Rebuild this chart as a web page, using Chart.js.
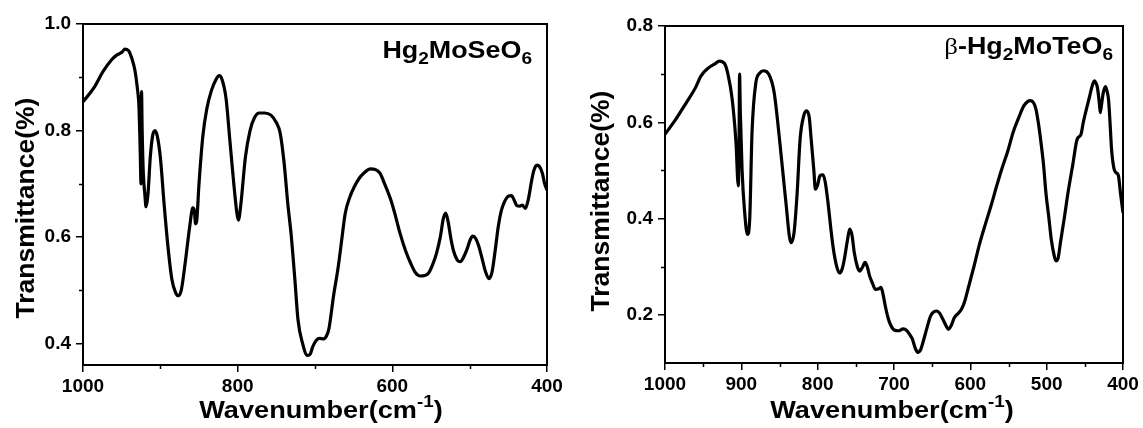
<!DOCTYPE html>
<html>
<head>
<meta charset="utf-8">
<script src="https://cdn.jsdelivr.net/npm/chart.js@4.4.1/dist/chart.umd.min.js"></script>
<style>
html, body { margin: 0; padding: 0; background: #fff; }
#wrap { position: relative; width: 1143px; height: 428px; }
.pane { position: absolute; top: 0; height: 428px; }
</style>
</head>
<body>
<div id="wrap">
  <div class="pane" style="left:0;width:571px"><canvas id="se-chart"></canvas></div>
  <div class="pane" style="left:571px;width:572px"><canvas id="te-chart"></canvas></div>
</div>
<script>
// Hg2MoSeO6 spectrum (wavenumber cm-1, transmittance)
const seWave = [1000, 986, 974, 963, 956, 952, 949, 946, 941, 937, 933, 930, 927.5, 926, 925, 924.3, 923.5, 922, 920, 918.5,
  916, 913, 910, 907, 904, 900, 895, 890, 885, 880, 877, 873, 868, 862, 858, 856, 854.5, 853, 850, 845,
  840, 834, 828, 824, 820, 815, 810, 805, 801, 799, 796, 790, 784, 778, 772, 765, 757, 750, 745, 740,
  735, 731, 726, 722, 716, 710, 706, 703, 698, 694, 689, 685, 682, 676, 670, 665, 661, 655, 649, 643,
  637, 628, 622, 616, 610, 602, 596, 590, 583, 576, 570, 564, 558, 553, 548, 543, 538, 534, 531, 528,
  524, 521, 516, 512, 508, 504, 499, 496, 492, 488, 484, 479, 475, 471, 467, 463, 459, 456, 450, 446,
  442, 439, 435, 432, 428, 424, 420, 417, 413, 410, 406, 403, 400];
const seTrans = [0.854, 0.880, 0.911, 0.933, 0.942, 0.945, 0.948, 0.953, 0.950, 0.936, 0.914, 0.883, 0.840, 0.760, 0.700, 0.873, 0.800, 0.720, 0.680, 0.657,
  0.680, 0.750, 0.790, 0.800, 0.790, 0.750, 0.660, 0.580, 0.520, 0.495, 0.490, 0.500, 0.550, 0.620, 0.655, 0.650, 0.625, 0.630, 0.700, 0.790,
  0.840, 0.875, 0.896, 0.903, 0.895, 0.860, 0.780, 0.700, 0.645, 0.632, 0.660, 0.750, 0.800, 0.825, 0.833, 0.833, 0.829, 0.815, 0.795, 0.740,
  0.660, 0.607, 0.520, 0.445, 0.400, 0.378, 0.381, 0.394, 0.407, 0.410, 0.409, 0.415, 0.428, 0.490, 0.544, 0.600, 0.644, 0.675, 0.695, 0.710,
  0.720, 0.728, 0.727, 0.720, 0.700, 0.670, 0.640, 0.607, 0.575, 0.550, 0.533, 0.527, 0.528, 0.533, 0.548, 0.569, 0.600, 0.635, 0.645, 0.630,
  0.595, 0.575, 0.557, 0.554, 0.562, 0.575, 0.596, 0.602, 0.597, 0.582, 0.560, 0.533, 0.522, 0.535, 0.575, 0.620, 0.650, 0.663, 0.677, 0.678,
  0.668, 0.659, 0.658, 0.660, 0.654, 0.672, 0.705, 0.725, 0.735, 0.733, 0.720, 0.700, 0.688];

// beta-Hg2MoTeO6 spectrum
const teWave = [1000, 986, 972, 960, 953, 943, 934, 929, 922, 917, 912, 907, 904, 903, 902.3, 901.3, 899, 896, 892, 889,
  886, 881, 876, 871, 864, 857, 850, 842, 835, 831, 827, 823, 818, 814.5, 811, 808.5, 805, 803, 800, 797,
  793, 790, 787, 780, 775, 771.5, 768, 765, 761, 758, 755, 752, 748, 745, 741, 738, 735, 732, 728, 724.5,
  720, 717, 714, 711.5, 708, 705, 700, 694, 688, 683, 679, 676, 672, 669, 665, 662, 657, 652, 648, 644,
  640, 636, 632, 628.5, 625, 621, 616, 611.5, 607, 602, 595, 588, 580, 573, 566, 559, 551, 544, 537, 530,
  525, 521, 517, 514, 511, 508, 504, 501, 497, 494, 490, 488, 485, 482, 477, 472, 466, 460, 455, 452,
  448, 444, 441, 437.5, 435, 433.5, 431, 429.8, 428, 426, 423, 421, 419, 417, 415, 412, 409.6, 406, 403.4, 400];
const teTrans = [0.575, 0.606, 0.641, 0.672, 0.696, 0.713, 0.722, 0.727, 0.722, 0.696, 0.648, 0.558, 0.468, 0.550, 0.700, 0.620, 0.500, 0.420, 0.367, 0.400,
  0.579, 0.682, 0.702, 0.707, 0.700, 0.662, 0.565, 0.440, 0.350, 0.370, 0.450, 0.565, 0.615, 0.624, 0.610, 0.565, 0.500, 0.461, 0.470, 0.489,
  0.491, 0.475, 0.440, 0.343, 0.300, 0.287, 0.295, 0.316, 0.355, 0.378, 0.365, 0.329, 0.300, 0.291, 0.300, 0.309, 0.300, 0.281, 0.265, 0.253,
  0.254, 0.257, 0.240, 0.219, 0.195, 0.181, 0.169, 0.167, 0.171, 0.167, 0.158, 0.150, 0.130, 0.122, 0.128, 0.143, 0.172, 0.198, 0.206, 0.208,
  0.203, 0.191, 0.178, 0.170, 0.178, 0.194, 0.203, 0.212, 0.230, 0.260, 0.302, 0.347, 0.390, 0.426, 0.465, 0.502, 0.540, 0.579, 0.608, 0.634,
  0.643, 0.645, 0.640, 0.627, 0.600, 0.565, 0.510, 0.454, 0.400, 0.357, 0.322, 0.312, 0.318, 0.350, 0.400, 0.454, 0.510, 0.565, 0.575, 0.600,
  0.627, 0.652, 0.672, 0.686, 0.680, 0.672, 0.640, 0.620, 0.638, 0.660, 0.674, 0.665, 0.648, 0.600, 0.544, 0.505, 0.496, 0.489, 0.454, 0.412];

// ticks
const seXMajor = [1000, 800, 600, 400];
const seXMinor = [900, 700, 500];
const seYMajor = [0.4, 0.6, 0.8, 1.0];
const seYMinor = [0.5, 0.7, 0.9];
const teXMajor = [1000, 900, 800, 700, 600, 500, 400];
const teXMinor = [950, 850, 750, 650, 550, 450];
const teYMajor = [0.2, 0.4, 0.6, 0.8];
const teYMinor = [0.3, 0.5, 0.7];

const FONT = '"Liberation Sans", Arial, sans-serif';

function drawRich(ctx, parts, x, y, align, stretch) {
    let w = 0;
    parts.forEach(p => { ctx.font = p.font; w += ctx.measureText(p.text).width; });
    ctx.save();
    ctx.translate(x, y);
    ctx.scale(stretch, 1);
    let cx = align === 'right' ? -w : (align === 'center' ? -w / 2 : 0);
    ctx.textBaseline = 'alphabetic';
    ctx.textAlign = 'left';
    ctx.fillStyle = '#000';
    parts.forEach(p => {
        ctx.font = p.font;
        ctx.fillText(p.text, cx, p.dy || 0);
        cx += ctx.measureText(p.text).width;
    });
    ctx.restore();
}

const big = 'bold 23px ' + FONT;
const sup = 'bold 16px ' + FONT;
const lab = 'bold 24px ' + FONT;
const sub = 'bold 17px ' + FONT;

const xTitleParts = [
    { text: 'Wavenumber(cm', font: big },
    { text: '-1', font: sup, dy: -11 },
    { text: ')', font: big }
];

// frame, minor ticks and titles
const decor = {
    id: 'decor',
    afterDraw(chart, args, opts) {
        const ctx = chart.ctx;
        const a = chart.chartArea;
        const xs = chart.scales.x, ys = chart.scales.y;
        ctx.save();
        ctx.strokeStyle = '#000';
        ctx.lineWidth = 2;
        ctx.strokeRect(a.left, a.top, a.right - a.left, a.bottom - a.top);
        ctx.lineWidth = 1.5;
        ctx.beginPath();
        opts.xMinor.forEach(v => {
            const px = Math.round(xs.getPixelForValue(v)) + 0.5;
            ctx.moveTo(px, a.bottom);
            ctx.lineTo(px, a.bottom + 4);
        });
        opts.yMinor.forEach(v => {
            const py = Math.round(ys.getPixelForValue(v)) + 0.5;
            ctx.moveTo(a.left, py);
            ctx.lineTo(a.left - 4, py);
        });
        ctx.stroke();

        ctx.save();
        ctx.translate(opts.yTitleX, opts.yTitleY);
        ctx.rotate(-Math.PI / 2);
        ctx.font = 'bold 26.5px ' + FONT;
        ctx.fillStyle = '#000';
        ctx.textAlign = 'center';
        ctx.textBaseline = 'middle';
        ctx.fillText('Transmittance(%)', 0, 0);
        ctx.restore();

        drawRich(ctx, xTitleParts, opts.xTitleX, 418, 'center', 1.18);
        drawRich(ctx, opts.label, opts.labelX, opts.labelY, 'right', 1.12);
        ctx.restore();
    }
};

function makeChart(id, wave, trans, cfg) {
    const data = wave.map((w, i) => ({ x: w, y: trans[i] }));
    return new Chart(document.getElementById(id), {
        type: 'line',
        data: {
            datasets: [{
                data: data,
                borderColor: '#000',
                borderWidth: 3.2,
                pointRadius: 0,
                cubicInterpolationMode: 'monotone',
                fill: false
            }]
        },
        options: {
            responsive: true,
            maintainAspectRatio: false,
            animation: false,
            layout: { padding: { left: 0, top: cfg.top, right: cfg.right, bottom: 0 } },
            plugins: {
                legend: { display: false },
                tooltip: { enabled: false },
                decor: cfg.decor
            },
            scales: {
                x: {
                    type: 'linear',
                    reverse: true,
                    min: 400,
                    max: 1000,
                    afterBuildTicks: s => { s.ticks = cfg.xMajor.map(v => ({ value: v })); },
                    afterFit: s => { s.height = cfg.xHeight; },
                    grid: { drawOnChartArea: false, color: '#000', lineWidth: 1.5, tickLength: 7 },
                    border: { display: false },
                    ticks: {
                        color: '#000',
                        padding: 3,
                        maxRotation: 0,
                        font: { family: FONT, size: 19, weight: 'bold' },
                        callback: v => String(v)
                    }
                },
                y: {
                    min: cfg.yMin,
                    max: cfg.yMax,
                    afterBuildTicks: s => { s.ticks = cfg.yMajor.map(v => ({ value: v })); },
                    afterFit: s => { s.width = cfg.yWidth; },
                    grid: { drawOnChartArea: false, color: '#000', lineWidth: 1.5, tickLength: 7 },
                    border: { display: false },
                    ticks: {
                        color: '#000',
                        padding: 5,
                        font: { family: FONT, size: 19, weight: 'bold' },
                        callback: v => v.toFixed(1)
                    }
                }
            }
        },
        plugins: [decor]
    });
}

const seChart = makeChart('se-chart', seWave, seTrans, {
    top: 24, right: 24, xHeight: 63, yWidth: 83,
    yMin: 0.36, yMax: 1.0,
    xMajor: seXMajor, yMajor: seYMajor,
    decor: {
        xMinor: seXMinor, yMinor: seYMinor,
        yTitleX: 27, yTitleY: 208, xTitleX: 321,
        labelX: 532, labelY: 58,
        label: [
            { text: 'Hg', font: lab },
            { text: '2', font: sub, dy: 6 },
            { text: 'MoSeO', font: lab },
            { text: '6', font: sub, dy: 6 }
        ]
    }
});

const teChart = makeChart('te-chart', teWave, teTrans, {
    top: 26, right: 20, xHeight: 65, yWidth: 94,
    yMin: 0.1, yMax: 0.8,
    xMajor: teXMajor, yMajor: teYMajor,
    decor: {
        xMinor: teXMinor, yMinor: teYMinor,
        yTitleX: 31, yTitleY: 201, xTitleX: 321,
        labelX: 542, labelY: 54,
        label: [
            { text: 'β', font: '24px "Liberation Serif", serif' },
            { text: '-Hg', font: lab },
            { text: '2', font: sub, dy: 6 },
            { text: 'MoTeO', font: lab },
            { text: '6', font: sub, dy: 6 }
        ]
    }
});
</script>
</body>
</html>
